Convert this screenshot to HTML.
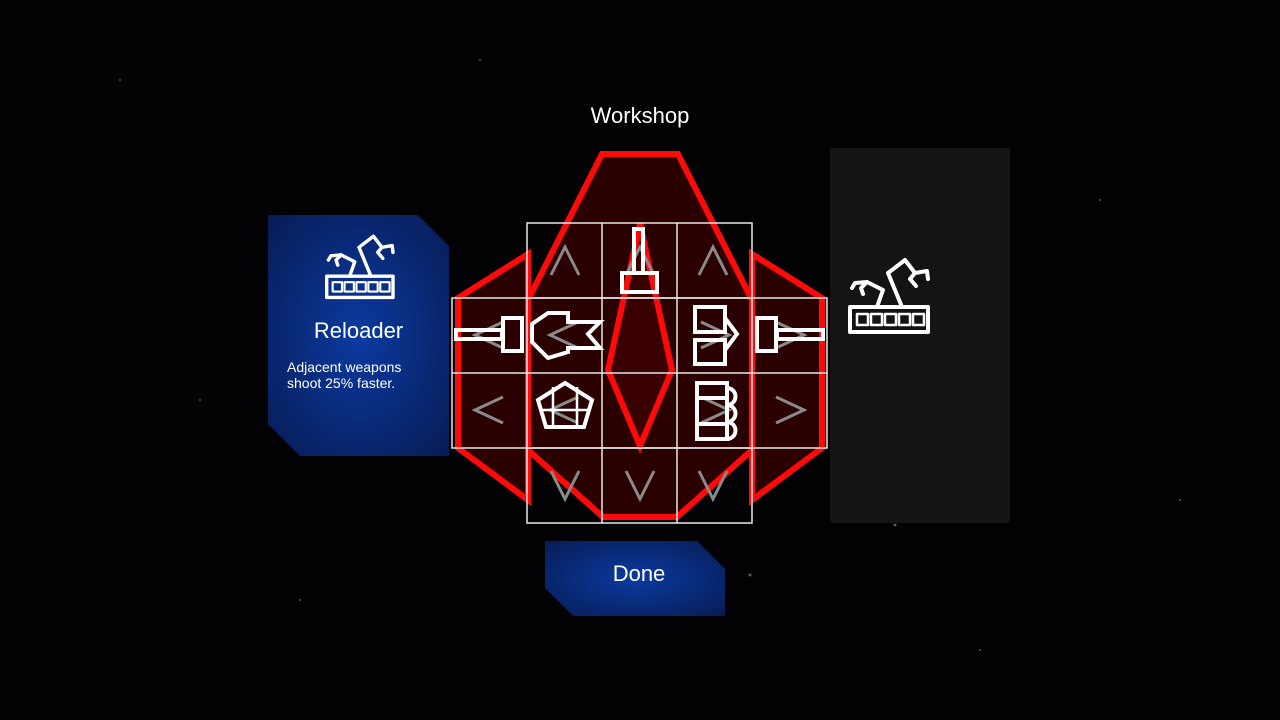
<!DOCTYPE html>
<html><head><meta charset="utf-8"><style>
html,body{margin:0;padding:0;background:#000;width:1280px;height:720px;overflow:hidden;font-family:"Liberation Sans",sans-serif;}
.t{position:absolute;color:#fff;}
</style></head><body>
<svg width="1280" height="720" style="position:absolute;left:0;top:0">
<defs>
<radialGradient id="bg1" cx="0.5" cy="0.5" r="0.7">
<stop offset="0" stop-color="#0b3aa0"/><stop offset="1" stop-color="#071c55"/>
</radialGradient>
<g id="rl" fill="none" stroke="#fff" stroke-width="4" stroke-linejoin="round" stroke-linecap="round">
<rect x="2" y="52" width="78" height="25"/>
<rect x="9" y="59" width="11" height="11" stroke-width="2.5"/>
<rect x="23" y="59" width="11" height="11" stroke-width="2.5"/>
<rect x="37" y="59" width="11" height="11" stroke-width="2.5"/>
<rect x="51" y="59" width="11" height="11" stroke-width="2.5"/>
<rect x="65" y="59" width="11" height="11" stroke-width="2.5"/>
<polyline points="29,52 35,35 19,27 7,28 4,33"/>
<polyline points="19,27 13,33 15,39"/>
<polyline points="54,52 40,18 57,5 67,18 79,16 80,24"/>
<polyline points="67,18 62,24 68,31"/>
</g>
</defs>
<rect width="1280" height="720" fill="#020204"/>
<g fill="#fff" opacity="0.35">
<circle cx="120" cy="80" r="1"/><circle cx="300" cy="600" r="1"/><circle cx="1100" cy="200" r="1"/><circle cx="980" cy="650" r="1"/><circle cx="200" cy="400" r="1"/><circle cx="1180" cy="500" r="1"/><circle cx="750" cy="575" r="1.5"/><circle cx="895" cy="525" r="1.5"/><circle cx="480" cy="60" r="1"/>
</g>
<polygon points="268,215 418,215 449,246 449,456 300,456 268,424" fill="url(#bg1)"/>
<polygon points="545,541 697,541 725,569 725,616 573,616 545,588" fill="url(#bg1)"/>
<rect x="830" y="148" width="180" height="375" fill="#141414"/>
<g fill="rgba(70,0,0,0.6)" stroke="#ff0a0a" stroke-width="6" stroke-linejoin="miter">
<polygon points="602,154 678,154 752,300 752,450 677,517 603,517 528,450 528,300"/>
<polygon points="752,254 822,298 822,448 752,500"/>
<polygon points="528,254 458,298 458,448 528,500"/>
<polygon points="640,224 672,370 640,446 608,370"/>
</g>
<g fill="none" stroke="#8a8a8a" stroke-width="3">
<polyline points="551,275 565,247 579,275"/>
<polyline points="699,275 713,247 727,275"/>
<polyline points="551,471 565,499 579,471"/>
<polyline points="626,471 640,499 654,471"/>
<polyline points="699,471 713,499 727,471"/>
<polyline points="503,397 475,410 503,423"/>
<polyline points="776,397 804,410 776,423"/>
<polyline points="626,275 640,247 654,275"/>
<polyline points="503,322 475,335 503,348"/>
<polyline points="578,322 550,335 578,348"/>
<polyline points="701,322 729,335 701,348"/>
<polyline points="776,322 804,335 776,348"/>
<polyline points="578,397 550,410 578,423"/>
<polyline points="701,397 729,410 701,423"/>
</g>
<g fill="none" stroke="#e8e8e8" stroke-width="1.5">
<rect x="527" y="223" width="225" height="300"/>
<rect x="452" y="298" width="375" height="150"/>
<line x1="602" y1="223" x2="602" y2="523"/><line x1="677" y1="223" x2="677" y2="523"/>
<line x1="452" y1="373" x2="827" y2="373"/>
<line x1="527" y1="298" x2="752" y2="298"/><line x1="527" y1="448" x2="752" y2="448"/>
</g>
<g fill="none" stroke="#fff" stroke-width="4" stroke-linejoin="miter">
<rect x="634" y="229" width="9" height="44"/><rect x="622" y="273" width="35" height="19"/>
<rect x="456" y="330" width="46" height="9"/><rect x="503" y="318" width="19" height="33"/>
<rect x="777" y="330" width="46" height="9"/><rect x="757" y="318" width="19" height="33"/>
<polygon points="548,313 568,313 568,322 600,322 588,334 600,348 568,348 568,352 548,358 532,342 532,324"/>
<rect x="695" y="307" width="30" height="25"/><rect x="695" y="340" width="30" height="24"/>
<polyline points="725,318 737,334 725,350"/>
<polygon points="565,383 592,400 584,427 546,427 538,400"/>
<line x1="553" y1="387" x2="553" y2="427" stroke-width="2.5"/><line x1="577" y1="387" x2="577" y2="427" stroke-width="2.5"/>
<line x1="540" y1="410" x2="590" y2="410" stroke-width="2.5"/>
<rect x="697" y="383" width="30" height="56"/>
<line x1="697" y1="398" x2="727" y2="398"/><line x1="697" y1="424" x2="727" y2="424"/>
<path d="M727,388 a6,6 0 0 1 0,17 a6,6 0 0 1 0,17 a6,6 0 0 1 0,17"/>
</g>
<use href="#rl" x="848" y="255"/>
<use href="#rl" transform="translate(325,232) scale(0.85)"/>
</svg>
<div class="t" style="left:540px;top:103px;width:200px;text-align:center;font-size:22px">Workshop</div>
<div class="t" style="left:268px;top:318px;width:181px;text-align:center;font-size:22px">Reloader</div>
<div class="t" style="left:287px;top:359px;font-size:14px;line-height:16px">Adjacent weapons<br>shoot 25% faster.</div>
<div class="t" style="left:545px;top:561px;width:188px;text-align:center;font-size:22px">Done</div>
</body></html>
